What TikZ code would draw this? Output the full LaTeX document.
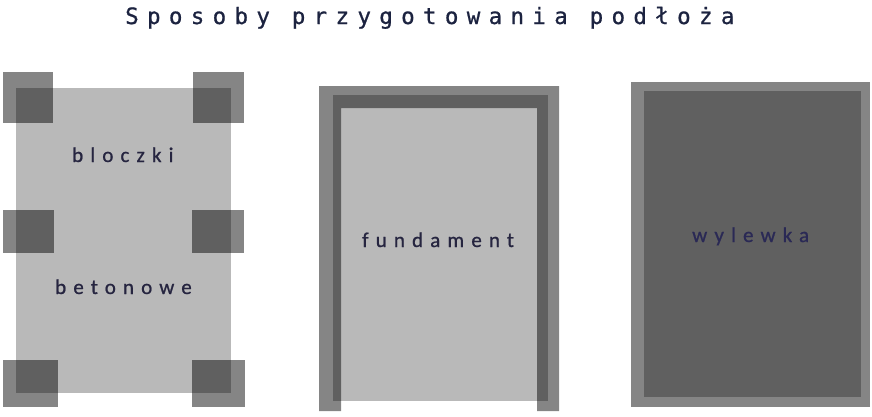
\documentclass[tikz,border=0pt]{standalone}
\usepackage{fontspec}
\newfontfamily\titlefont[LetterSpace=37, FakeBold=0.8]{DejaVu Sans Mono}
\newfontfamily\labelfont[LetterSpace=34, FakeBold=0.9]{Carlito}
\definecolor{lightgrey}{HTML}{B9B9B9}
\definecolor{titleink}{HTML}{1C2340}
\definecolor{labelink}{HTML}{262540}
\definecolor{labelinkb}{HTML}{2A2955}
\tikzset{
  base/.style={fill=lightgrey},
  shade/.style={fill=black, fill opacity=0.48},
  titletext/.style={anchor=base west, inner sep=0pt, text=titleink, font=\titlefont\fontsize{22.5}{27}\selectfont},
  labeltext/.style={anchor=base west, inner sep=0pt, text=labelink, font=\labelfont\fontsize{21}{25}\selectfont},
}
\begin{document}
\begin{tikzpicture}[x=1pt,y=-1pt]
\useasboundingbox[fill=white] (0,0) rectangle (872,416);
% title
\node[titletext] (title) at (125,24) {Sposoby przygotowania podłoża};
% left panel: bloczki betonowe
\fill[base] (16,88) rectangle (231,393);
\fill[shade] (3,72) rectangle (53,123);
\fill[shade] (193,72) rectangle (244,123);
\fill[shade] (3,210) rectangle (54,253);
\fill[shade] (192,210) rectangle (244,253);
\fill[shade] (3,360) rectangle (58,407);
\fill[shade] (192,360) rectangle (245,407);
\node[labeltext] (bl1) at (72,162) {bloczki};
\node[labeltext] (bl2) at (55,294) {betonowe};
% middle panel: fundament
\fill[base] (333,95) rectangle (548,401);
\fill[shade, even odd rule] (319,86) -- (559,86) -- (559,411) -- (537,411) -- (537,108) -- (341,108) -- (341,411) -- (319,411) -- cycle;
\node[labeltext] (fu) at (362,247) {fundament};
% right panel: wylewka
\fill[base] (644,91) rectangle (861,397);
\fill[shade] (631,82) rectangle (870,407);
\node[labeltext, text=labelinkb] (wy) at (692,242) {wylewka};
\end{tikzpicture}
\end{document}
